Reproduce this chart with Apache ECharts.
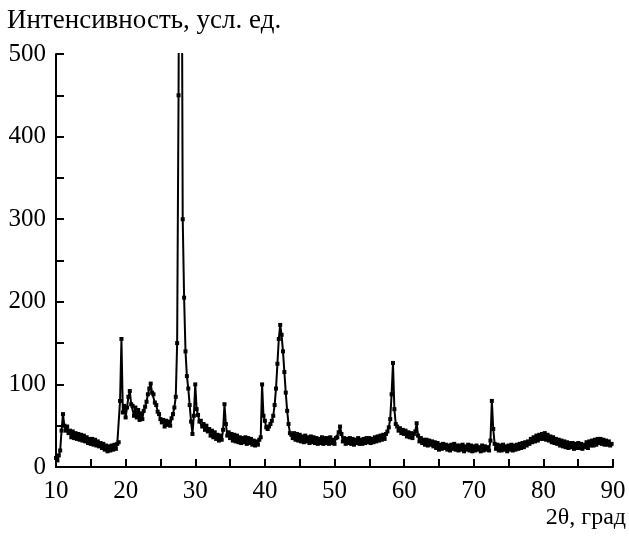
<!DOCTYPE html>
<html>
<head>
<meta charset="utf-8">
<script src="https://cdn.jsdelivr.net/npm/echarts@6/dist/echarts.min.js"></script>
<style>
html,body{margin:0;padding:0;background:#fff;}
#chart{width:629px;height:540px;}
</style>
</head>
<body>
<div id="chart"></div>
<script>
// 2θ grid: start and step of the scan (degrees)
var thetaStart = 10.0;
var thetaStep = 0.2;
// Intensity values, one row per degree (x.0, x.2, x.4, x.6, x.8)
var intensity = [
  11, 8, 14, 20, 44,      // 10
  64, 50, 44, 49, 41,     // 11
  44, 36, 43, 35, 41,     // 12
  34, 40, 33, 39, 32,     // 13
  38, 31, 36, 29, 34,     // 14
  28, 34, 27, 33, 26,     // 15
  31, 25, 29, 23, 28,     // 16
  21, 26, 19, 25, 20,     // 17
  26, 21, 27, 22, 28,     // 18
  30, 80, 155, 66, 74,    // 19
  60, 72, 85, 92, 76,     // 20
  74, 62, 72, 60, 69,     // 21
  57, 65, 58, 68, 73,     // 22
  79, 88, 95, 101, 90,    // 23
  88, 78, 75, 67, 64,     // 24
  58, 54, 57, 49, 56,     // 25
  51, 55, 50, 59, 64,     // 26
  72, 85, 150, 450, 900,  // 27
  800, 300, 205, 140, 110,// 28
  95, 75, 55, 40, 62,     // 29
  100, 70, 63, 55, 56,    // 30
  49, 52, 45, 50, 43,     // 31
  46, 38, 44, 36, 42,     // 32
  34, 39, 32, 38, 33,     // 33
  45, 76, 52, 38, 42,     // 34
  35, 40, 32, 39, 31,     // 35
  38, 30, 36, 29, 35,     // 36
  30, 36, 28, 35, 29,     // 37
  34, 27, 32, 26, 31,     // 38
  27, 33, 36, 100, 62,    // 39
  56, 48, 46, 49, 52,     // 40
  56, 62, 75, 95, 125,    // 41
  155, 172, 160, 140, 115,// 42
  90, 68, 52, 41, 39,     // 43
  35, 41, 33, 40, 32,     // 44
  39, 31, 37, 30, 38,     // 45
  31, 36, 29, 37, 30,     // 46
  36, 29, 35, 28, 34,     // 47
  29, 36, 28, 35, 29,     // 48
  35, 28, 36, 29, 33,     // 49
  28, 35, 36, 42, 49,     // 50
  40, 31, 35, 28, 34,     // 51
  29, 35, 28, 34, 27,     // 52
  33, 29, 35, 28, 33,     // 53
  28, 34, 29, 35, 30,     // 54
  35, 29, 34, 30, 36,     // 55
  31, 37, 32, 38, 33,     // 56
  39, 34, 40, 43, 48,     // 57
  58, 88, 126, 70, 52,    // 58
  49, 44, 47, 41, 45,     // 59
  40, 44, 37, 42, 36,     // 60
  41, 35, 40, 43, 53,     // 61
  38, 31, 35, 29, 33,     // 62
  27, 33, 26, 32, 27,     // 63
  31, 25, 30, 23, 29,     // 64
  21, 27, 22, 28, 23,     // 65
  27, 21, 26, 20, 27,     // 66
  22, 28, 21, 26, 20,     // 67
  26, 21, 27, 19, 25,     // 68
  21, 27, 20, 26, 19,     // 69
  25, 20, 26, 21, 24,     // 70
  19, 26, 20, 25, 21,     // 71
  24, 20, 32, 80, 46,     // 72
  28, 22, 27, 20, 26,     // 73
  20, 27, 21, 25, 19,     // 74
  26, 21, 27, 20, 26,     // 75
  21, 27, 22, 28, 23,     // 76
  29, 24, 30, 26, 31,     // 77
  28, 34, 30, 36, 31,     // 78
  38, 32, 39, 34, 40,     // 79
  34, 41, 33, 39, 32,     // 80
  37, 30, 36, 29, 34,     // 81
  28, 33, 26, 32, 25,     // 82
  31, 24, 30, 23, 29,     // 83
  24, 29, 22, 28, 23,     // 84
  29, 23, 28, 22, 27,     // 85
  24, 30, 23, 31, 26,     // 86
  32, 26, 33, 27, 34,     // 87
  29, 34, 28, 33, 27,     // 88
  32, 27, 31, 26, 28      // 89
];
var xTicks = [10, 20, 30, 40, 50, 60, 70, 80, 90];
var yTicks = [0, 100, 200, 300, 400, 500];
var yTitle = 'Интенсивность, усл. ед.';
var xTitle = '2θ, град';

var points = intensity.map(function (v, i) {
  return [+(thetaStart + i * thetaStep).toFixed(1), v];
});

var serif = '"Liberation Serif", "DejaVu Serif", serif';
var chart = echarts.init(document.getElementById('chart'), null, {renderer: 'canvas'});
chart.setOption({
  animation: false,
  backgroundColor: '#fff',
  grid: {left: 56, right: 16, top: 54, bottom: 73, containLabel: false},
  title: {
    text: yTitle, left: 7, top: 7, padding: 0,
    textStyle: {fontFamily: serif, fontWeight: 'normal', fontSize: 27, color: '#000'}
  },
  graphic: [{
    type: 'text', right: 3, top: 506,
    style: {text: xTitle, font: '24px ' + serif, fill: '#000'}
  }],
  xAxis: {
    type: 'value', min: 10, max: 90, interval: 5,
    axisLine: {show: true, onZero: false, lineStyle: {color: '#000', width: 2}},
    axisTick: {show: true, inside: true, length: 8, lineStyle: {color: '#000', width: 2}},
    splitLine: {show: false},
    axisLabel: {
      color: '#000', fontFamily: serif, fontSize: 25, margin: 12,
      formatter: function (v) { return xTicks.indexOf(v) >= 0 ? String(v) : ''; }
    }
  },
  yAxis: {
    type: 'value', min: 0, max: 500, interval: 50,
    axisLine: {show: true, onZero: false, lineStyle: {color: '#000', width: 2}},
    axisTick: {show: true, inside: true, length: 8, lineStyle: {color: '#000', width: 2}},
    splitLine: {show: false},
    axisLabel: {
      color: '#000', fontFamily: serif, fontSize: 25, margin: 10,
      formatter: function (v) { return yTicks.indexOf(v) >= 0 ? String(v) : ''; }
    }
  },
  series: [{
    type: 'line',
    data: points,
    clip: true,
    symbol: 'rect',
    symbolSize: 4,
    showAllSymbol: true,
    itemStyle: {color: '#000'},
    lineStyle: {color: '#000', width: 2}
  }]
});
</script>
</body>
</html>
